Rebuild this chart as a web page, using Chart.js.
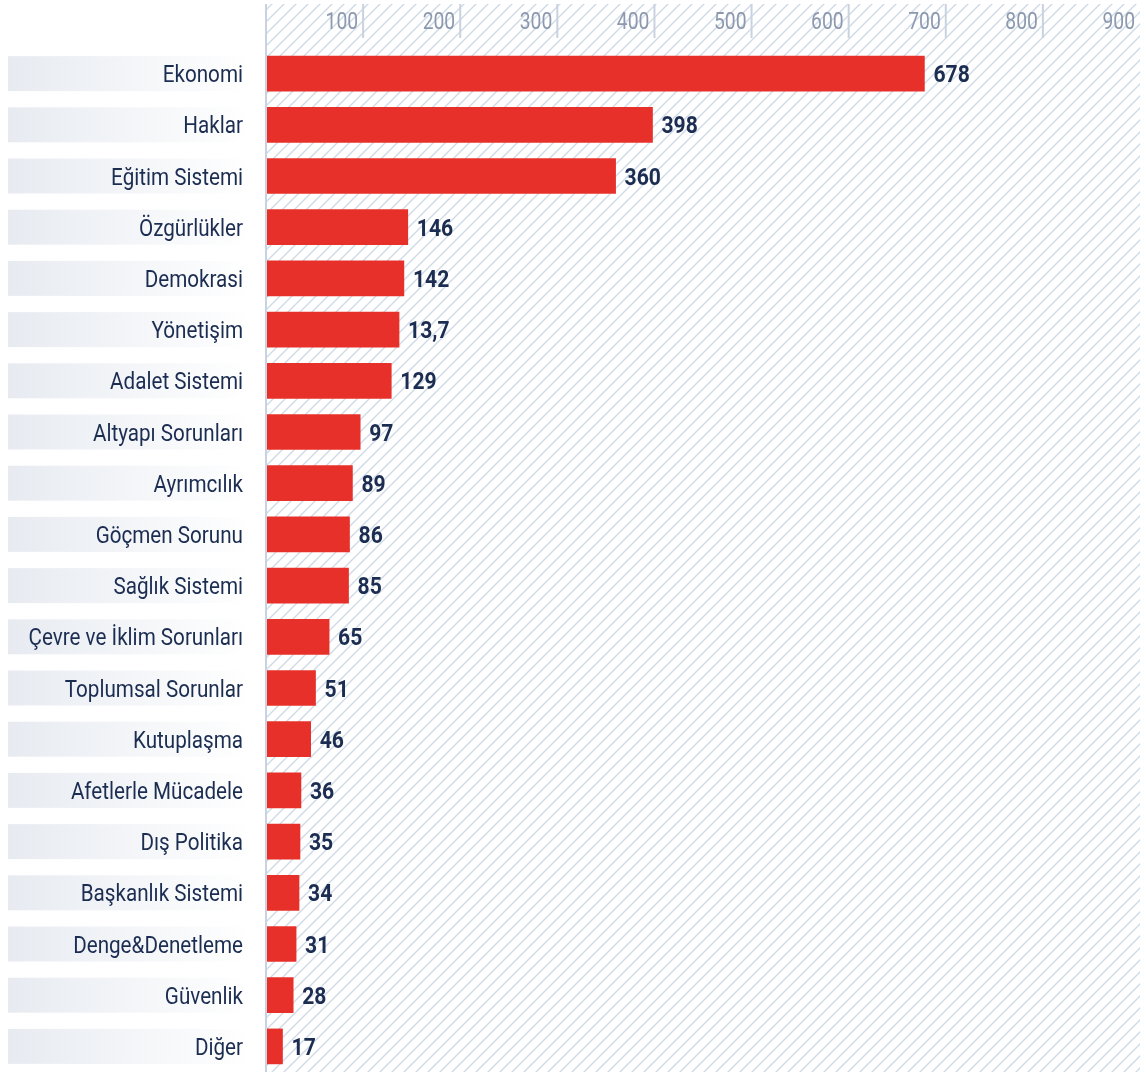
<!DOCTYPE html>
<html>
<head>
<meta charset="utf-8">
<script src="https://cdn.jsdelivr.net/npm/chart.js@4"></script>
<style>
  html, body { margin: 0; padding: 0; background: #fff; }
  #wrap { width: 1140px; height: 1072px; position: relative; }
</style>
</head>
<body>
<div id="wrap"><canvas id="chart"></canvas></div>
<script>
// ================================
// DATA
// ================================
const categories = [
  "Ekonomi", "Haklar", "Eğitim Sistemi", "Özgürlükler", "Demokrasi",
  "Yönetişim", "Adalet Sistemi", "Altyapı Sorunları", "Ayrımcılık", "Göçmen Sorunu",
  "Sağlık Sistemi", "Çevre ve İklim Sorunları", "Toplumsal Sorunlar", "Kutuplaşma", "Afetlerle Mücadele",
  "Dış Politika", "Başkanlık Sistemi", "Denge&Denetleme", "Güvenlik", "Diğer"
];
const values = [678, 398, 360, 146, 142, 137, 129, 97, 89, 86, 85, 65, 51, 46, 36, 35, 34, 31, 28, 17];
// printed labels (the source prints "13,7" for Yönetişim)
const valueLabels = ["678", "398", "360", "146", "142", "13,7", "129", "97", "89", "86",
  "85", "65", "51", "46", "36", "35", "34", "31", "28", "17"];
const xTicks = [100, 200, 300, 400, 500, 600, 700, 800, 900];

// ================================
// COLOURS
// ================================
const red = "#e8302a";
const navy = "#1c2d52";
const tickGrey = "#8c99ae";
const lineGrey = "#c9d3df";
const hatchGrey = "#cfdae7";

function hatchPattern(ctx) {
  const s = 12;
  const c = document.createElement("canvas");
  c.width = s; c.height = s;
  const p = c.getContext("2d");
  p.strokeStyle = hatchGrey;
  p.lineWidth = 1.4;
  p.beginPath();
  p.moveTo(0, s); p.lineTo(s, 0);
  p.moveTo(-1, 1); p.lineTo(1, -1);
  p.moveTo(s - 1, s + 1); p.lineTo(s + 1, s - 1);
  p.stroke();
  return ctx.createPattern(c, "repeat");
}

// text drawn narrower to mimic a condensed face; y is the visual centre
function condensedText(ctx, text, x, y, size, weight, color, align, sx) {
  ctx.save();
  ctx.translate(x, y + size * 0.355);
  ctx.scale(sx, 1);
  ctx.font = weight + " " + size + "px Roboto";
  ctx.fillStyle = color;
  ctx.textAlign = align;
  ctx.textBaseline = "alphabetic";
  ctx.fillText(text, 0, 0);
  ctx.restore();
}

// ================================
// BACKGROUND: hatch, top ticks, label bands
// ================================
const backdrop = {
  id: "backdrop",
  beforeDatasetsDraw(chart) {
    const { ctx, chartArea } = chart;
    const xs = chart.scales.x;
    const ys = chart.scales.y;
    const top = 4;

    ctx.save();
    ctx.fillStyle = hatchPattern(ctx);
    ctx.fillRect(chartArea.left, top, chartArea.right - chartArea.left, chart.height - top);

    // tick marks + labels along the top
    xTicks.forEach((v) => {
      const x = xs.getPixelForValue(v);
      if (x < chart.width - 1) {
        ctx.strokeStyle = lineGrey;
        ctx.lineWidth = 2;
        ctx.beginPath();
        ctx.moveTo(x, top);
        ctx.lineTo(x, 38);
        ctx.stroke();
      }
      condensedText(ctx, String(v), Math.min(x, chart.width) - 5, 21, 23, 400, tickGrey, "right", 0.84);
    });

    // gradient bands behind category labels
    const bandH = 35;
    categories.forEach((c, i) => {
      const y = ys.getPixelForValue(i);
      const g = ctx.createLinearGradient(8, 0, 250, 0);
      g.addColorStop(0, "#e7ebf1");
      g.addColorStop(1, "#ffffff");
      ctx.fillStyle = g;
      ctx.fillRect(8, y - bandH / 2, 242, bandH);
      condensedText(ctx, c, 243, y, 24, 400, navy, "right", 0.86);
    });
    ctx.restore();
  },
  afterDatasetsDraw(chart) {
    const { ctx, chartArea } = chart;
    const meta = chart.getDatasetMeta(0);
    ctx.save();
    // left axis line
    ctx.strokeStyle = lineGrey;
    ctx.lineWidth = 2;
    ctx.beginPath();
    ctx.moveTo(chartArea.left, 4);
    ctx.lineTo(chartArea.left, chart.height);
    ctx.stroke();

    meta.data.forEach((bar, i) => {
      condensedText(ctx, valueLabels[i], bar.x + 9, bar.y, 24, 700, navy, "left", 0.88);
    });
    ctx.restore();
  }
};

// ================================
// CHART
// ================================
new Chart(document.getElementById("chart"), {
  type: "bar",
  data: {
    labels: categories,
    datasets: [{
      data: values,
      backgroundColor: red,
      borderWidth: 0,
      barThickness: 35
    }]
  },
  options: {
    indexAxis: "y",
    responsive: true,
    maintainAspectRatio: false,
    animation: false,
    devicePixelRatio: 1,
    layout: { padding: { left: 266, top: 48, right: 0, bottom: 0 } },
    plugins: { legend: { display: false }, tooltip: { enabled: false } },
    scales: {
      x: { display: false, min: 0, max: 900 },
      y: { display: false }
    }
  },
  plugins: [backdrop]
});
</script>
</body>
</html>
